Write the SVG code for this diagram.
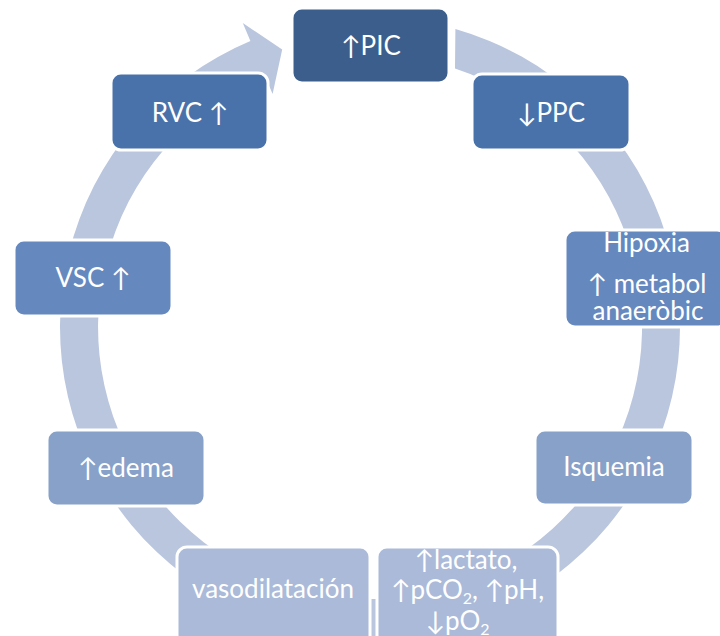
<svg xmlns="http://www.w3.org/2000/svg" width="720" height="636" viewBox="0 0 720 636">
  <style>
    .box { stroke: #ffffff; stroke-width: 3; }
    .t { font-family: Lato, "Liberation Sans", sans-serif; font-size: 26px; fill: #ffffff; text-anchor: middle; }
    .c1 { fill: #3b5e8c; }
    .c2 { fill: #4a72aa; }
    .c3 { fill: #6588bf; }
    .c4 { fill: #87a1c9; }
    .c5 { fill: #aabad8; }
    .ring { fill: #bac6de; }
  </style>

  <!-- circular cycle arrow behind the steps -->
  <g id="connectors">
    <path class="ring" d="M 455.4 29 A 310 310 0 1 1 250.4 41 L 242.8 23 L 282.2 49.6 L 272.6 94.1 L 265 76.1 A 272 272 0 1 0 455 68.6 Z"/>
  </g>

  <g id="node-pic">
    <rect class="box c1" x="292" y="8" width="157" height="75" rx="10"/>
    <text class="t" x="371" y="55">↑PIC</text>
  </g>

  <g id="node-ppc">
    <rect class="box c2" x="472" y="74" width="158" height="76" rx="10"/>
    <text class="t" x="551" y="121.5">↓PPC</text>
  </g>

  <g id="node-hipoxia">
    <rect class="box c3" x="565" y="230" width="162" height="97" rx="10"/>
    <text class="t" x="646.5" y="251.5">Hipoxia</text>
    <text class="t" x="647" y="292.5">↑ metabol</text>
    <text class="t" x="648" y="320">anaeròbic</text>
  </g>

  <g id="node-isquemia">
    <rect class="box c4" x="535" y="430" width="158" height="75" rx="10"/>
    <text class="t" x="614" y="476">Isquemia</text>
  </g>

  <g id="node-lactato">
    <rect class="box c5" x="377" y="547" width="181" height="100" rx="10"/>
    <text class="t" x="466" y="569">↑lactato,</text>
    <text class="t" x="467.5" y="599">↑pCO<tspan font-size="16" dy="5">2</tspan><tspan dy="-5">, ↑pH,</tspan></text>
    <text class="t" x="457.5" y="630">↓pO<tspan font-size="16" dy="5">2</tspan></text>
  </g>

  <g id="node-vasodilatacion">
    <rect class="box c5" x="177" y="547" width="193" height="100" rx="10"/>
    <text class="t" x="273" y="598">vasodilatación</text>
  </g>

  <g id="node-edema">
    <rect class="box c4" x="47" y="430" width="158" height="76" rx="10"/>
    <text class="t" x="126" y="476.5">↑edema</text>
  </g>

  <g id="node-vsc">
    <rect class="box c3" x="14" y="240" width="158" height="76" rx="10"/>
    <text class="t" x="93" y="287">VSC ↑</text>
  </g>

  <g id="node-rvc">
    <rect class="box c2" x="111" y="73" width="157" height="77" rx="10"/>
    <text class="t" x="190" y="121.5">RVC ↑</text>
  </g>
</svg>
